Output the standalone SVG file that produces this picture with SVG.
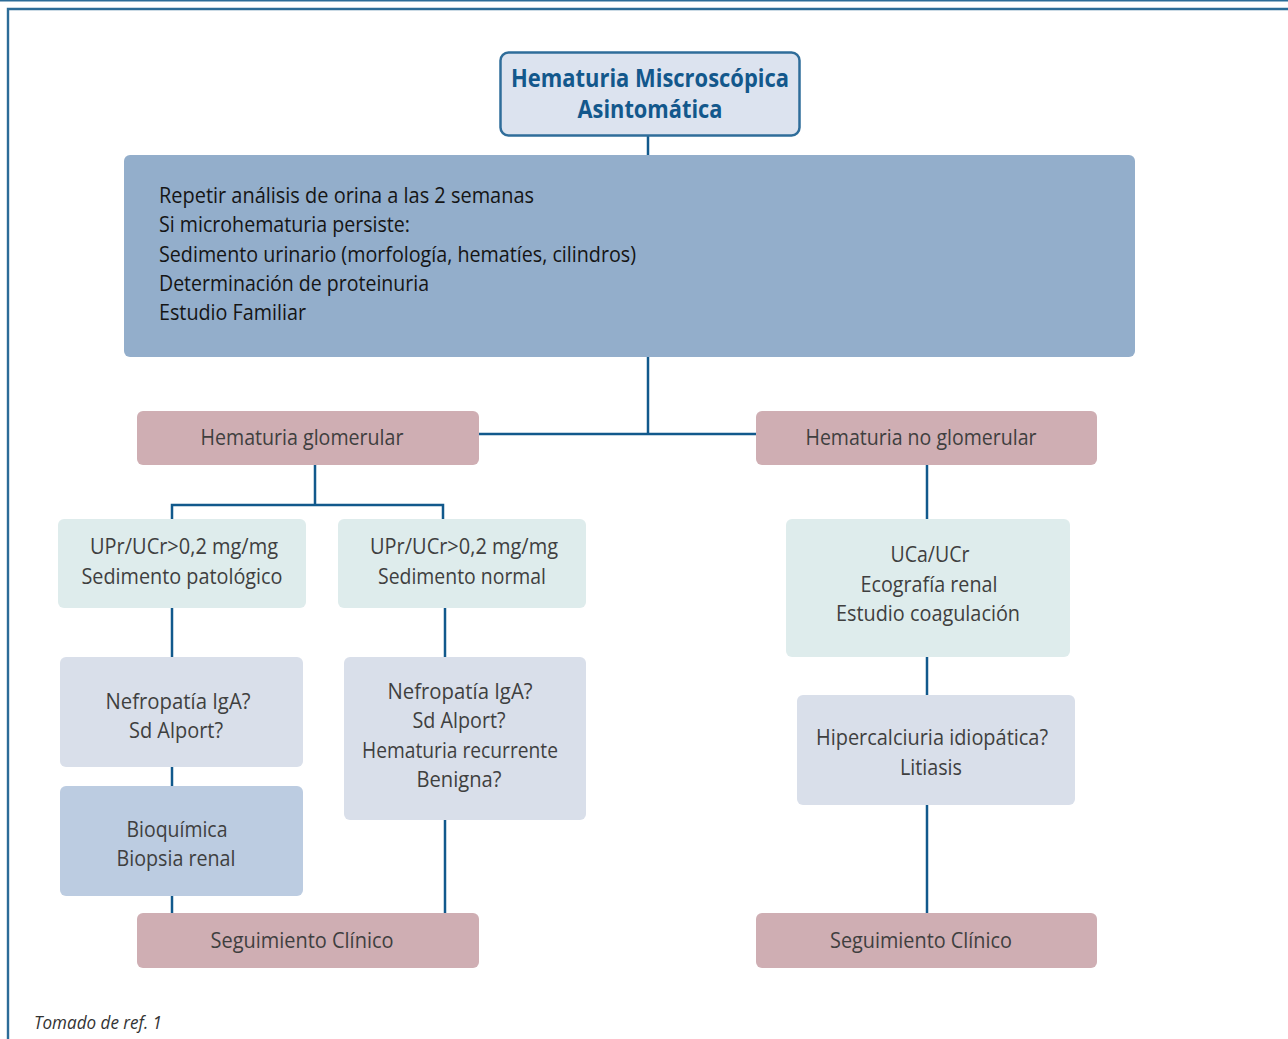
<svg xmlns="http://www.w3.org/2000/svg" width="1288" height="1039" viewBox="0 0 1288 1039">
<style>
  .t { font-family: "Open Sans", "Liberation Sans", sans-serif; font-size: 22px; fill: #3f3f3f; text-anchor: middle; }
  .tl { font-family: "Open Sans", "Liberation Sans", sans-serif; font-size: 22px; fill: #151515; }
  .title { font-family: "Open Sans", "Liberation Sans", sans-serif; font-size: 25px; font-weight: bold; fill: #13588c; text-anchor: middle; }
  .pink { fill: #cfaeb3; }
  .teal { fill: #deecec; }
  .grey { fill: #d9dfea; }
  .blue { fill: #bccce1; }
  .conn { stroke: #11598c; stroke-width: 2.5; fill: none; }
  .frame { stroke: #2c6c98; fill: none; }
</style>
<rect width="1288" height="1039" fill="#ffffff"/>
<line class="frame" x1="0" y1="0.8" x2="1288" y2="0.8" stroke-width="1.6"/>
<path class="frame" d="M8 1039 V9 H1288" stroke-width="2.4"/>

<g id="connectors">
  <line class="conn" x1="648" y1="136" x2="648" y2="155"/>
  <line class="conn" x1="648" y1="357" x2="648" y2="434"/>
  <line class="conn" x1="479" y1="434" x2="756" y2="434"/>
  <path class="conn" d="M315 465 V505 M172 519 V505 H443 V519"/>
  <line class="conn" x1="172" y1="608" x2="172" y2="657"/>
  <line class="conn" x1="172" y1="767" x2="172" y2="786"/>
  <line class="conn" x1="172" y1="896" x2="172" y2="913"/>
  <line class="conn" x1="445" y1="608" x2="445" y2="657"/>
  <line class="conn" x1="445" y1="820" x2="445" y2="913"/>
  <line class="conn" x1="927" y1="465" x2="927" y2="519"/>
  <line class="conn" x1="927" y1="657" x2="927" y2="695"/>
  <line class="conn" x1="927" y1="805" x2="927" y2="913"/>
</g>

<g id="n-title">
  <rect x="500.5" y="52.5" width="299" height="83" rx="8" fill="#dce3ef" stroke="#2f6d9a" stroke-width="2.5"/>
  <text class="title" x="650" y="87" textLength="278" lengthAdjust="spacingAndGlyphs">Hematuria Miscroscópica</text>
  <text class="title" x="650" y="118" textLength="145" lengthAdjust="spacingAndGlyphs">Asintomática</text>
</g>

<g id="n-repetir">
  <rect x="124" y="155" width="1011" height="202" rx="6" fill="#93aecb"/>
  <text class="tl" x="159" y="203" textLength="375" lengthAdjust="spacingAndGlyphs">Repetir análisis de orina a las 2 semanas</text>
  <text class="tl" x="159" y="232" textLength="251" lengthAdjust="spacingAndGlyphs">Si microhematuria persiste:</text>
  <text class="tl" x="159" y="262" textLength="477" lengthAdjust="spacingAndGlyphs">Sedimento urinario (morfología, hematíes, cilindros)</text>
  <text class="tl" x="159" y="291" textLength="270" lengthAdjust="spacingAndGlyphs">Determinación de proteinuria</text>
  <text class="tl" x="159" y="320" textLength="147" lengthAdjust="spacingAndGlyphs">Estudio Familiar</text>
</g>

<g id="n-glom">
  <rect class="pink" x="137" y="411" width="342" height="54" rx="6"/>
  <text class="t" x="302" y="445" textLength="203" lengthAdjust="spacingAndGlyphs">Hematuria glomerular</text>
</g>

<g id="n-noglom">
  <rect class="pink" x="756" y="411" width="341" height="54" rx="6"/>
  <text class="t" x="921" y="445" textLength="231" lengthAdjust="spacingAndGlyphs">Hematuria no glomerular</text>
</g>

<g id="n-upr1">
  <rect class="teal" x="58" y="519" width="248" height="89" rx="6"/>
  <text class="t" x="184" y="554" textLength="188" lengthAdjust="spacingAndGlyphs">UPr/UCr&gt;0,2 mg/mg</text>
  <text class="t" x="182" y="584" textLength="201" lengthAdjust="spacingAndGlyphs">Sedimento patológico</text>
</g>

<g id="n-upr2">
  <rect class="teal" x="338" y="519" width="248" height="89" rx="6"/>
  <text class="t" x="464" y="554" textLength="188" lengthAdjust="spacingAndGlyphs">UPr/UCr&gt;0,2 mg/mg</text>
  <text class="t" x="462" y="584" textLength="168" lengthAdjust="spacingAndGlyphs">Sedimento normal</text>
</g>

<g id="n-nefro1">
  <rect class="grey" x="60" y="657" width="243" height="110" rx="6"/>
  <text class="t" x="178" y="709" textLength="145" lengthAdjust="spacingAndGlyphs">Nefropatía IgA?</text>
  <text class="t" x="176" y="738" textLength="94" lengthAdjust="spacingAndGlyphs">Sd Alport?</text>
</g>

<g id="n-bioq">
  <rect class="blue" x="60" y="786" width="243" height="110" rx="6"/>
  <text class="t" x="177" y="837" textLength="101" lengthAdjust="spacingAndGlyphs">Bioquímica</text>
  <text class="t" x="176" y="866" textLength="119" lengthAdjust="spacingAndGlyphs">Biopsia renal</text>
</g>

<g id="n-nefro2">
  <rect class="grey" x="344" y="657" width="242" height="163" rx="6"/>
  <text class="t" x="460" y="699" textLength="145" lengthAdjust="spacingAndGlyphs">Nefropatía IgA?</text>
  <text class="t" x="459" y="728" textLength="93" lengthAdjust="spacingAndGlyphs">Sd Alport?</text>
  <text class="t" x="460" y="758" textLength="196" lengthAdjust="spacingAndGlyphs">Hematuria recurrente</text>
  <text class="t" x="459" y="787" textLength="85" lengthAdjust="spacingAndGlyphs">Benigna?</text>
</g>

<g id="n-seg1">
  <rect class="pink" x="137" y="913" width="342" height="55" rx="6"/>
  <text class="t" x="302" y="948" textLength="183" lengthAdjust="spacingAndGlyphs">Seguimiento Clínico</text>
</g>

<g id="n-uca">
  <rect class="teal" x="786" y="519" width="284" height="138" rx="6"/>
  <text class="t" x="930" y="562" textLength="79" lengthAdjust="spacingAndGlyphs">UCa/UCr</text>
  <text class="t" x="929" y="592" textLength="137" lengthAdjust="spacingAndGlyphs">Ecografía renal</text>
  <text class="t" x="928" y="621" textLength="184" lengthAdjust="spacingAndGlyphs">Estudio coagulación</text>
</g>

<g id="n-hiper">
  <rect class="grey" x="797" y="695" width="278" height="110" rx="6"/>
  <text class="t" x="932" y="745" textLength="232" lengthAdjust="spacingAndGlyphs">Hipercalciuria idiopática?</text>
  <text class="t" x="931" y="775" textLength="62" lengthAdjust="spacingAndGlyphs">Litiasis</text>
</g>

<g id="n-seg2">
  <rect class="pink" x="756" y="913" width="341" height="55" rx="6"/>
  <text class="t" x="921" y="948" textLength="182" lengthAdjust="spacingAndGlyphs">Seguimiento Clínico</text>
</g>

<text x="34" y="1029" font-family="'Open Sans', 'Liberation Sans', sans-serif" font-size="18" font-style="italic" fill="#333" textLength="128" lengthAdjust="spacingAndGlyphs">Tomado de ref. 1</text>
</svg>
